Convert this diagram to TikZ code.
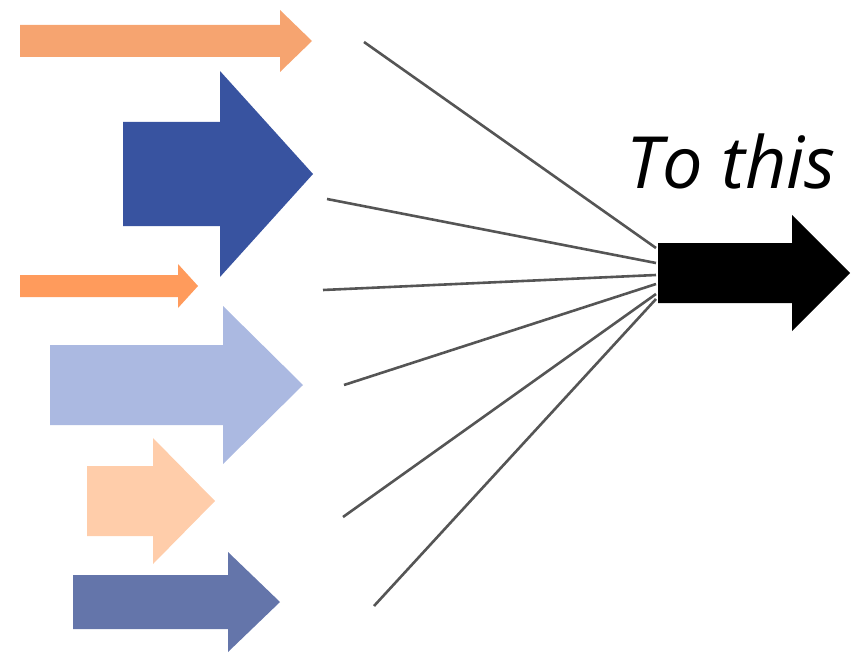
\documentclass[tikz,border=0pt]{standalone}
\usepackage{fontspec}
\setmainfont{Open Sans}
\definecolor{orangeA}{HTML}{F6A470}
\definecolor{orangeB}{HTML}{FF9B5C}
\definecolor{blueDark}{HTML}{3853A0}
\definecolor{blueLight}{HTML}{ABB9E1}
\definecolor{peach}{HTML}{FFCDAA}
\definecolor{blueMid}{HTML}{6475AA}
\definecolor{lineGray}{HTML}{555555}
\newcommand\myarrow[7]{\fill[#1] (#2,#5-#6) -- (#3,#5-#6) -- (#3,#5-#7) -- (#4,#5) -- (#3,#5+#7) -- (#3,#5+#6) -- (#2,#5+#6) -- cycle;}
\begin{document}
\begin{tikzpicture}[x=1pt,y=-1pt,line join=miter,
  ray/.style={draw=lineGray,line width=2.6pt}]
\useasboundingbox (0,0) rectangle (853,655);
% colored arrows: color, tail x, head base x, tip x, centre y, shaft half, head half
\myarrow{orangeA}{20}{280}{312}{41}{16}{31}
\myarrow{blueDark}{123}{220}{313}{174}{52}{103}
\myarrow{orangeB}{20}{178}{198}{286}{11}{22}
\myarrow{blueLight}{50}{223}{303}{385}{40}{79}
\myarrow{peach}{87}{153}{215}{501}{35}{63}
\myarrow{blueMid}{73}{228}{280}{602}{27}{50}
% black arrow
\myarrow{black}{658}{792}{850}{273}{30}{58}
\node[anchor=base west,inner sep=0pt,font=\itshape\fontsize{72}{80}\selectfont] (label) at (626,188) {To this};
% rays
\coordinate (s1) at (364,42);
\coordinate (s2) at (327,199);
\coordinate (s3) at (323,290);
\coordinate (s4) at (344,385);
\coordinate (s5) at (343,517);
\coordinate (s6) at (374,606);
\coordinate (e1) at (656,248);
\coordinate (e2) at (656,263);
\coordinate (e3) at (656,275);
\coordinate (e4) at (656,284);
\coordinate (e5) at (656,294);
\coordinate (e6) at (656,299);
\foreach \i in {1,...,6} \draw[ray] (s\i) -- (e\i);
\end{tikzpicture}
\end{document}
